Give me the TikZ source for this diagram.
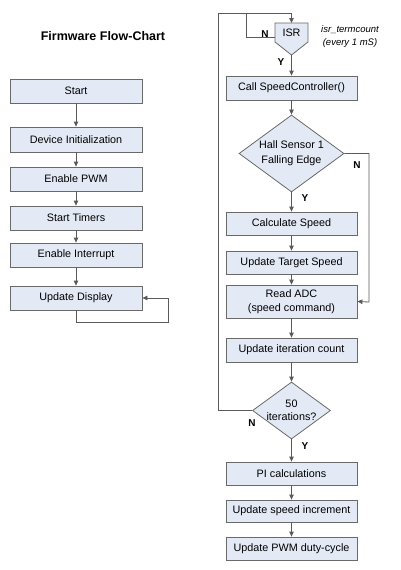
\documentclass[tikz,border=0pt]{standalone}
\usepackage{fontspec}
\setmainfont{Liberation Sans}
\usetikzlibrary{shapes.geometric,arrows.meta}
\definecolor{boxfill}{RGB}{228,234,245}
\definecolor{boxline}{RGB}{105,105,105}
\definecolor{wire}{RGB}{90,90,90}
\begin{document}
\begin{tikzpicture}[x=1pt,y=-1pt,
  procbox/.style={draw=boxline,fill=boxfill,line width=0.8pt,minimum width=131pt,minimum height=24pt,inner sep=0pt,font=\fontsize{10.8}{13.5}\selectfont,align=center},
  decbox/.style={diamond,draw=boxline,fill=boxfill,line width=0.8pt,inner sep=0pt},
  dectext/.style={font=\fontsize{10.8}{15}\selectfont,align=center,inner sep=0pt},
  wireline/.style={draw=wire,line width=0.8pt},
  flow/.style={wireline,-{Triangle[length=5pt,width=4.5pt]}},
  lbl/.style={font=\bfseries\fontsize{10}{11}\selectfont,inner sep=0pt},
  note/.style={font=\itshape\fontsize{9.5}{12}\selectfont,inner sep=0pt}]
\useasboundingbox (0,0) rectangle (400,570);
% title
\node[font=\bfseries\fontsize{12.5}{14}\selectfont] (title) at (103,36) {Firmware Flow-Chart};
% left column
\node[procbox,minimum width=132pt] (start) at (76,91) {Start};
\node[procbox,minimum width=132pt,minimum height=25pt] (dev) at (76,139.5) {Device Initialization};
\node[procbox,minimum width=132pt] (epwm) at (76,179) {Enable PWM};
\node[procbox,minimum width=132pt] (timers) at (76,218) {Start Timers};
\node[procbox,minimum width=132pt] (intr) at (76,255) {Enable Interrupt};
\node[procbox,minimum width=132pt] (disp) at (76,298) {Update Display};
\coordinate (dret) at (168,322);
\draw[flow] (start) -- (dev);
\draw[flow] (dev) -- (epwm);
\draw[flow] (epwm) -- (timers);
\draw[flow] (timers) -- (intr);
\draw[flow] (intr) -- (disp);
\draw[flow] (disp.south) |- (dret) |- (disp.east);
% ISR
\draw[draw=boxline,fill=boxfill,line width=0.8pt] (275,23) -- (308,23) -- (308,42) -- (291.5,55) -- (275,42) -- cycle;
\node[font=\fontsize{10.8}{12}\selectfont,inner sep=0pt] (isr) at (291.5,33) {ISR};
\coordinate (isrtop) at (291.5,23);
\coordinate (isrtip) at (291.5,55);
\coordinate (isrleft) at (275,37);
\node[note] (tc1) at (350,30) {isr\_termcount};
\node[note] (tc2) at (350,43) {(every 1 mS)};
% right column
\node[procbox] (call) at (291.5,88) {Call SpeedController()};
\node[decbox,minimum width=105pt,minimum height=77pt] (hall) at (291.5,153.5) {};
\node[dectext] (hallt) at (hall.center) {Hall Sensor 1\\Falling Edge};
\node[procbox,minimum height=23pt] (calc) at (291.5,223.5) {Calculate Speed};
\node[procbox,minimum height=23pt] (target) at (291.5,262.5) {Update Target Speed};
\node[procbox,minimum height=33pt] (adc) at (291.5,301.5) {Read ADC\\(speed command)};
\node[procbox] (iter) at (291.5,350) {Update iteration count};
\node[decbox,minimum width=78pt,minimum height=57pt] (fifty) at (291.5,410.5) {};
\node[dectext,font=\fontsize{10.8}{13}\selectfont] (fiftyt) at (fifty.center) {50\\iterations?};
\node[procbox,minimum height=23pt] (pi) at (291.5,473.5) {PI calculations};
\node[procbox,minimum height=22pt] (inc) at (291.5,511) {Update speed increment};
\node[procbox,minimum height=23pt] (pwmd) at (291.5,548.5) {Update PWM duty-cycle};
% connectors
\coordinate (bigl) at (218,13);
\coordinate (isrl) at (246,13);
\coordinate (halln) at (369,302);
\draw[flow] (fifty.west) -| (bigl) -| (isrtop);
\draw[wireline] (isrleft) -| (isrl);
\draw[flow] (isrtip) -- (call);
\draw[flow] (call) -- (hall);
\draw[flow] (hall) -- (calc);
\draw[flow] (calc) -- (target);
\draw[flow] (target) -- (adc);
\draw[flow] (hall.east) -| (halln) -- (adc.east);
\draw[flow] (adc) -- (iter);
\draw[flow] (iter) -- (fifty);
\draw[flow] (fifty) -- (pi);
\draw[flow] (pi) -- (inc);
\draw[flow] (inc) -- (pwmd);
% labels
\node[lbl] (ln1) at (265,34) {N};
\node[lbl] (ly1) at (281,62) {Y};
\node[lbl] (ln2) at (357,165) {N};
\node[lbl] (ly2) at (305,198) {Y};
\node[lbl] (ln3) at (252,423) {N};
\node[lbl] (ly3) at (305,446) {Y};
\end{tikzpicture}
\end{document}
